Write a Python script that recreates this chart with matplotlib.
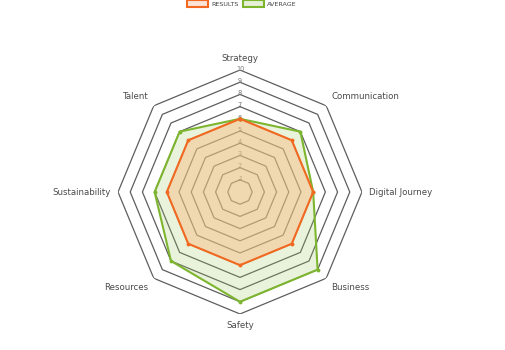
import numpy as np
import matplotlib.pyplot as plt
from matplotlib.patches import Patch

# Scores per category (0-10 scale)
categories = ["Strategy", "Communication", "Digital Journey", "Business",
              "Safety", "Resources", "Sustainability", "Talent"]
results = [6, 6, 6, 6, 6, 6, 6, 6]
average = [6, 7, 6, 9, 9, 8, 7, 7]
rings = [1, 2, 3, 4, 5, 6, 7, 8, 9, 10]

ORANGE = "#F26A21"
GREEN = "#7DB52F"

n = len(categories)
theta = np.arange(n) * 2 * np.pi / n
theta_c = np.append(theta, theta[0])

def closed(vals):
    return np.append(vals, vals[0])

fig = plt.figure(figsize=(5.06, 3.5), dpi=100)
ax = fig.add_axes([0.2332, 0.1029, 0.4822, 0.697], projection="polar")
ax.set_theta_zero_location("N")
ax.set_theta_direction(-1)
ax.set_ylim(0, 10)
ax.grid(False)
ax.spines["polar"].set_visible(False)
ax.set_xticks([])
ax.set_yticks([])

# octagonal rings
for r in rings:
    ax.plot(theta_c, [r] * (n + 1), color="#5e5e5e", lw=0.9, zorder=1)
    ax.text(0, r + 0.1, str(r), ha="center", va="center",
            fontsize=4.8, color="#777777", zorder=2)

# series
ax.fill(theta_c, closed(average), color="#9CCB5E", alpha=0.22, lw=0, zorder=3)
ax.fill(theta_c, closed(results), color="#F8BF89", alpha=0.5, lw=0, zorder=4)
ax.plot(theta_c, closed(average), color=GREEN, lw=1.5, marker="o",
        markersize=1.8, zorder=5)
ax.plot(theta_c, closed(results), color=ORANGE, lw=1.5, marker="o",
        markersize=1.8, zorder=6)

# category labels
for t, name in zip(theta, categories):
    s, c = np.sin(t), np.cos(t)
    ha = "center" if abs(s) < 0.1 else ("left" if s > 0 else "right")
    va = "center" if abs(c) < 0.1 else ("bottom" if c > 0 else "top")
    ax.text(t, 10.6, name, ha=ha, va=va, fontsize=6.2, color="#4a4a4a")

handles = [Patch(facecolor="#FCE3D5", edgecolor=ORANGE, lw=1.5, label="RESULTS"),
           Patch(facecolor="#E6F0D6", edgecolor=GREEN, lw=1.5, label="AVERAGE")]
fig.legend(handles=handles, loc="center", bbox_to_anchor=(0.478, 0.99),
           ncol=2, frameon=False, fontsize=4.6, handlelength=3.3,
           handleheight=1.2, handletextpad=0.45, columnspacing=0.7,
           labelcolor="#444444")

fig.savefig("out.png", dpi=100)
